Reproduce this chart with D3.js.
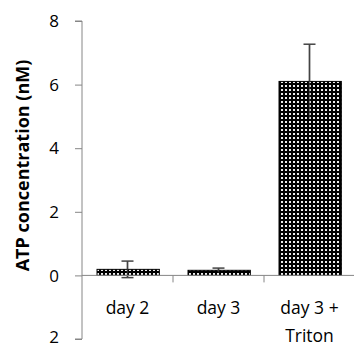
<!DOCTYPE html>
<html>
<head>
<meta charset="utf-8">
<script src="https://cdn.jsdelivr.net/npm/d3@7"></script>
<style>
  body { margin: 0; background: #fff; }
  text { font-family: "Open Sans", "Liberation Sans", sans-serif; }
</style>
</head>
<body>
<svg id="chart"></svg>
<script>
// Chart values
const categories = ["day 2", "day 3", "day 3 +\nTriton"];
const values = [0.19, 0.16, 6.1];
const errors = [0.26, 0.07, 1.17];
const yTicks = [-2, 0, 2, 4, 6, 8];
const yTickLabels = ["2", "0", "2", "4", "6", "8"];

const width = 354;
const height = 347;

const svg = d3.select("#chart")
    .attr("width", width)
    .attr("height", height);

// Scales
const y = d3.scaleLinear().domain([-2, 8]).range([339, 21]);
const x = d3.scaleBand().domain(categories).range([82, 355]);

const axisColor = "#868686";

// Pattern for bars: black with white dots
const defs = svg.append("defs");
const pat = defs.append("pattern")
    .attr("id", "dots")
    .attr("patternUnits", "userSpaceOnUse")
    .attr("width", 4)
    .attr("height", 4);
pat.append("rect").attr("width", 4).attr("height", 4).attr("fill", "#000");
pat.append("rect").attr("x", 1).attr("y", 1).attr("width", 2).attr("height", 2).attr("fill", "#eee");

// Y axis
const yAxis = svg.append("g")
    .attr("transform", "translate(82,0)")
    .call(d3.axisLeft(y).tickValues(yTicks).tickSize(7).tickPadding(16)
        .tickFormat((d, i) => yTickLabels[i]));
yAxis.select(".domain").attr("stroke", axisColor).attr("d", `M-7,${y(8)}H0V${y(-2)}H-7`);
yAxis.selectAll(".tick line").attr("stroke", axisColor);
yAxis.selectAll(".tick text")
    .attr("fill", "#000")
    .attr("dy", d => d === -2 ? "0.2em" : "0.34em")
    .style("font-size", "17px")
    .style("font-family", "'Open Sans', sans-serif");

// Y axis title
svg.append("text")
    .attr("transform", `translate(29,${(63 + 268) / 2}) rotate(-90)`)
    .attr("text-anchor", "middle")
    .style("font-size", "18px")
    .style("font-weight", "bold")
    .text("ATP concentration (nM)");

// Error bars (drawn first, bars sit on top)
const errColor = "#444";
values.forEach((v, i) => {
    const cx = x(categories[i]) + x.bandwidth() / 2;
    const g = svg.append("g").attr("stroke", errColor).attr("stroke-width", 1.5);
    g.append("line").attr("x1", cx).attr("x2", cx).attr("y1", y(v + errors[i])).attr("y2", y(v - errors[i]));
    [v + errors[i], v - errors[i]].forEach(e => {
        g.append("line").attr("x1", cx - 6).attr("x2", cx + 6).attr("y1", y(e)).attr("y2", y(e));
    });
});

// Bars
const bw = x.bandwidth();
svg.selectAll("rect.bar")
    .data(values)
    .join("rect")
    .attr("class", "bar")
    .attr("x", (d, i) => x(categories[i]) + bw * 0.165)
    .attr("width", bw * 0.685)
    .attr("y", d => y(d))
    .attr("height", d => y(0) - y(d))
    .attr("fill", "url(#dots)")
    .attr("stroke", "#000")
    .attr("stroke-width", 1);

// Error lines visible through the bars
values.forEach((v, i) => {
    const cx = x(categories[i]) + bw / 2;
    svg.append("line")
        .attr("x1", cx).attr("x2", cx)
        .attr("y1", y(v + errors[i])).attr("y2", y(v - errors[i]))
        .attr("stroke", errColor).attr("stroke-width", 1.5).attr("opacity", 0.6);
});

// X axis line at zero
const xAxis = svg.append("g").attr("transform", `translate(0,${y(0)})`);
xAxis.append("line")
    .attr("x1", 82).attr("x2", width)
    .attr("stroke", axisColor);
xAxis.selectAll("line.tick")
    .data(categories.slice(1))
    .join("line")
    .attr("class", "tick")
    .attr("x1", d => x(d)).attr("x2", d => x(d))
    .attr("y1", 0).attr("y2", 7)
    .attr("stroke", axisColor);

// Category labels
categories.forEach((c, i) => {
    const t = svg.append("text")
        .attr("x", x(c) + bw / 2)
        .attr("y", 314)
        .attr("text-anchor", "middle")
        .style("font-size", "17.5px");
    c.split("\n").forEach((line, j) => {
        t.append("tspan")
            .attr("x", x(c) + bw / 2)
            .attr("dy", j === 0 ? 0 : 28)
            .text(line);
    });
});
</script>
</body>
</html>
